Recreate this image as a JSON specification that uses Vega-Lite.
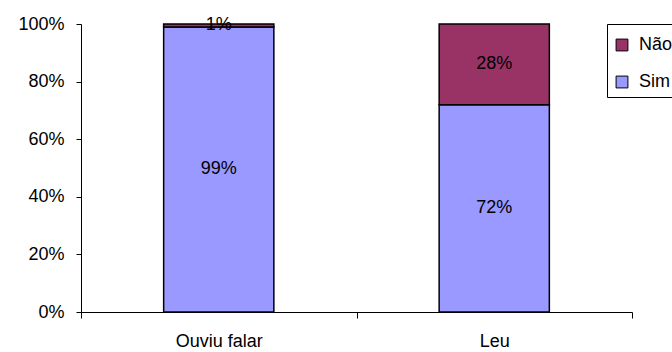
{
  "$schema": "https://vega.github.io/schema/vega-lite/v6.json",
  "width": 551,
  "height": 288,
  "autosize": {"type": "none"},
  "padding": {"left": 81, "top": 24, "right": 40, "bottom": 40},
  "background": "white",
  "config": {
    "view": {"stroke": null},
    "font": "Liberation Sans",
    "axis": {
      "domainColor": "black",
      "tickColor": "black",
      "labelColor": "black",
      "labelFont": "Liberation Sans",
      "labelFontSize": 18,
      "grid": false,
      "title": null
    }
  },
  "data": {
    "values": [
      {"grupo": "Ouviu falar", "resposta": "Sim", "valor": 0.99},
      {"grupo": "Ouviu falar", "resposta": "Não", "valor": 0.01},
      {"grupo": "Leu", "resposta": "Sim", "valor": 0.72},
      {"grupo": "Leu", "resposta": "Não", "valor": 0.28}
    ]
  },
  "encoding": {
    "x": {
      "field": "grupo",
      "type": "nominal",
      "sort": ["Ouviu falar", "Leu"],
      "scale": {"paddingInner": 0, "paddingOuter": 0},
      "axis": {
        "labelAngle": 0,
        "tickBand": "extent",
        "tickSize": 6,
        "labelPadding": 14
      }
    }
  },
  "layer": [
    {
      "mark": {"type": "bar", "width": {"band": 0.4}, "stroke": "black", "strokeWidth": 1.5},
      "encoding": {
        "y": {
          "field": "valor",
          "type": "quantitative",
          "stack": true,
          "scale": {"domain": [0, 1]},
          "axis": {
            "format": ".0%",
            "values": [0, 0.2, 0.4, 0.6, 0.8, 1],
            "tickSize": 5,
            "labelPadding": 12
          }
        },
        "color": {
          "field": "resposta",
          "type": "nominal",
          "scale": {"domain": ["Não", "Sim"], "range": ["#993366", "#9999FF"]},
          "legend": {
            "orient": "none",
            "legendX": 526,
            "legendY": 0,
            "title": " ",
            "titleFontSize": 1,
            "titlePadding": 5,
            "padding": 6,
            "strokeColor": "black",
            "fillColor": "white",
            "symbolType": "square",
            "symbolSize": 140,
            "symbolStrokeColor": "black",
            "symbolStrokeWidth": 1,
            "symbolOpacity": 1,
            "labelFont": "Liberation Sans",
            "labelFontSize": 18,
            "labelColor": "black",
            "labelOffset": 8,
            "rowPadding": 19
          }
        },
        "order": {"field": "resposta", "sort": "descending"}
      }
    },
    {
      "mark": {"type": "text", "font": "Liberation Sans", "fontSize": 18, "color": "black", "baseline": "middle"},
      "encoding": {
        "y": {"field": "valor", "type": "quantitative", "stack": true, "bandPosition": 0.5},
        "text": {"field": "valor", "type": "quantitative", "format": ".0%"},
        "detail": {"field": "resposta"},
        "order": {"field": "resposta", "sort": "descending"}
      }
    }
  ]
}
